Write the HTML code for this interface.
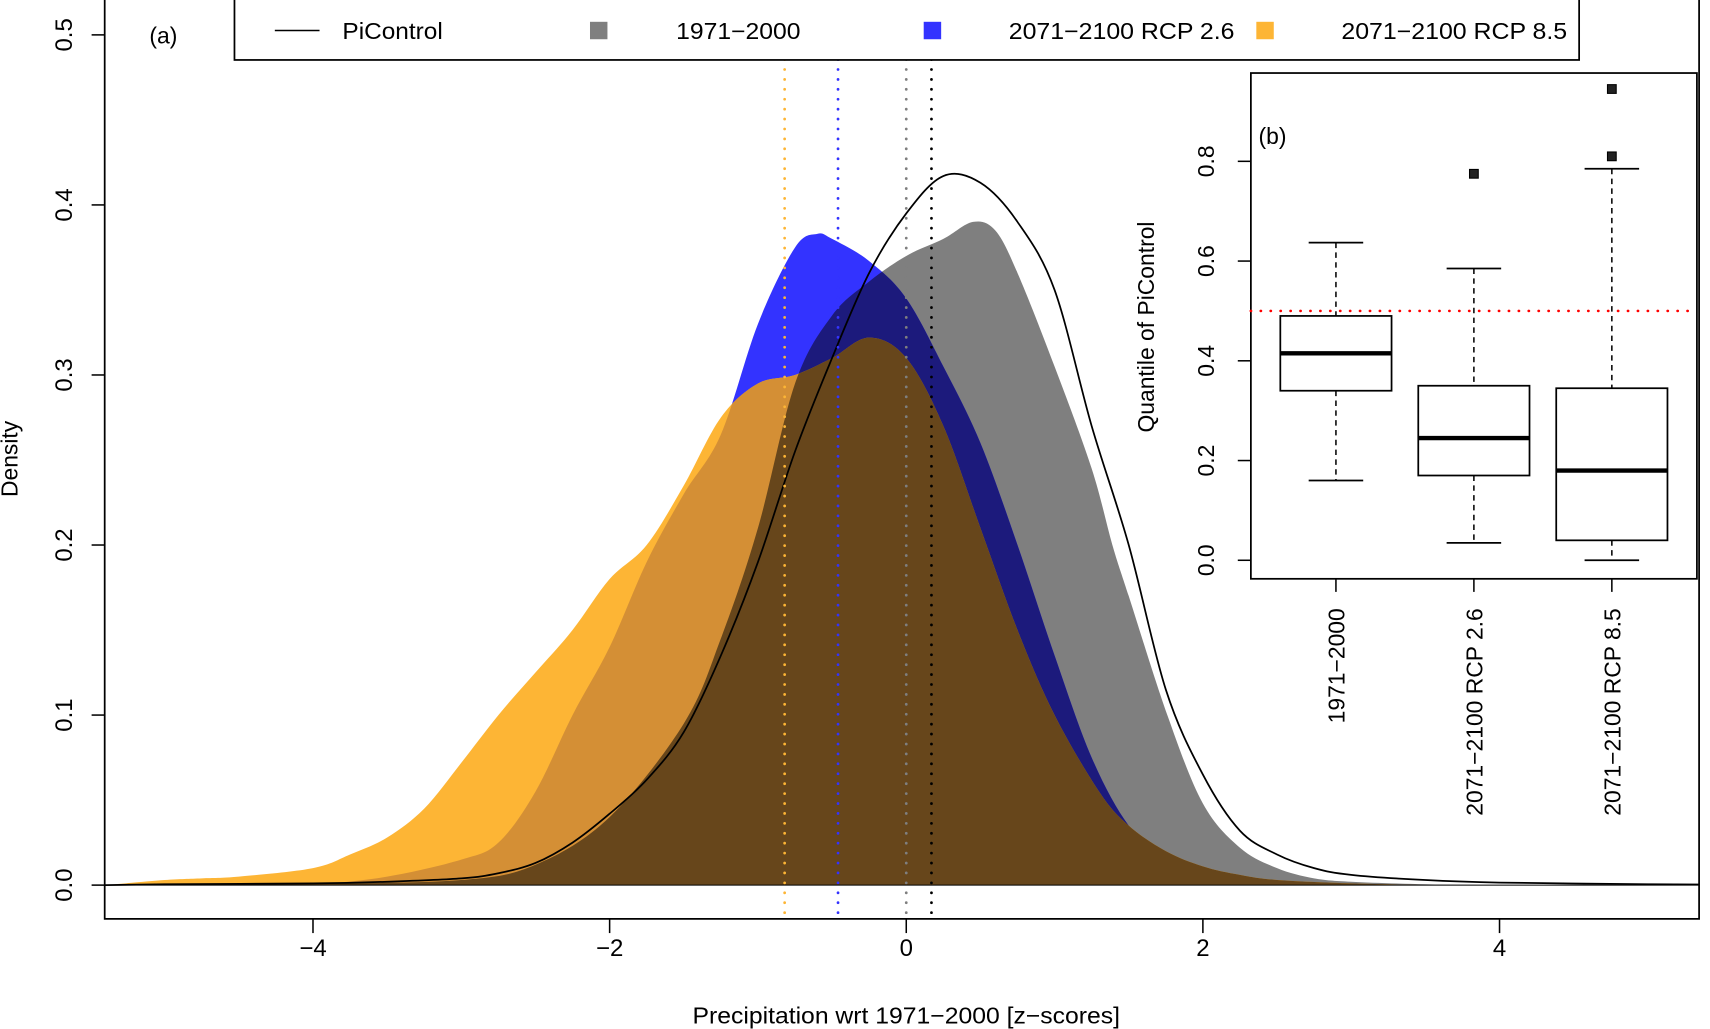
<!DOCTYPE html>
<html><head><meta charset="utf-8"><style>
html,body{margin:0;padding:0;background:#fff;}
svg{display:block;font-family:"Liberation Sans",sans-serif;}
</style></head><body>
<svg id="chart" width="1710" height="1029" viewBox="0 0 1568 944" preserveAspectRatio="none" xmlns="http://www.w3.org/2000/svg">
<defs>
<clipPath id="plotclip"><rect x="96" y="0" width="1462" height="843"/></clipPath>
</defs>
<rect x="0" y="0" width="1568" height="944" fill="#fff"/>
<g id="fills" clip-path="url(#plotclip)"></g>
<g id="main-axes"></g>
<g id="inset"></g>
</svg>
<script>
// ---------- data (main density plot) ----------
const piX  = [-5.4,-5,-4,-3.5,-3,-2.75,-2.5,-2.25,-2,-1.75,-1.5,-1.25,-1,-0.75,-0.5,-0.25,0,0.25,0.5,0.75,1,1.25,1.5,1.75,2,2.25,2.5,2.75,3,3.5,4,5,5.4];
const piY  = [0,0.0005,0.001,0.002,0.004,0.007,0.013,0.025,0.042,0.062,0.09,0.135,0.19,0.255,0.31,0.36,0.395,0.417,0.413,0.39,0.35,0.27,0.2,0.115,0.065,0.032,0.018,0.01,0.006,0.003,0.0015,0.0005,0.0003];
const grayX = [-5.4,-4,-3,-2.5,-2,-1.5,-1.25,-1,-0.75,-0.5,-0.25,0,0.25,0.45,0.6,0.75,1,1.25,1.39,1.5,1.76,2,2.25,2.5,2.75,3,3.5,4];
const grayY = [0,0.001,0.003,0.012,0.04,0.095,0.145,0.21,0.295,0.335,0.355,0.37,0.38,0.39,0.385,0.36,0.305,0.245,0.2,0.17,0.1,0.048,0.022,0.01,0.004,0.002,0.0005,0];
const blueX = [-4,-3.5,-3,-2.75,-2.5,-2.25,-2,-1.75,-1.5,-1.25,-1,-0.75,-0.6,-0.5,-0.25,0,0.25,0.5,0.75,1,1.25,1.5,1.75,2,2.5,3];
const blueY = [0,0.005,0.015,0.025,0.055,0.1,0.14,0.19,0.23,0.265,0.33,0.375,0.383,0.38,0.367,0.345,0.305,0.26,0.2,0.135,0.075,0.035,0.016,0.007,0.002,0];
const orangeX = [-5.4,-5,-4.75,-4.5,-4,-3.75,-3.5,-3.25,-3,-2.75,-2.5,-2.25,-2,-1.75,-1.5,-1.25,-1,-0.75,-0.5,-0.25,0,0.25,0.5,0.75,1,1.3,1.5,1.75,2,2.25,2.5,3,3.5];
const orangeY = [0,0.003,0.004,0.005,0.01,0.018,0.028,0.045,0.072,0.1,0.125,0.15,0.18,0.2,0.235,0.275,0.295,0.3,0.31,0.322,0.31,0.27,0.21,0.15,0.1,0.055,0.035,0.02,0.011,0.006,0.003,0.001,0];
const meanLines = [-0.82,-0.46,0,0.17];
const meanColors = ["#FDB535","#3333FF","#7F7F7F","#000000"];
const xTicks = [-4,-2,0,2,4];
const yTicks = [0,0.1,0.2,0.3,0.4,0.5];
// ---------- data (inset boxplot) ----------
const boxCats = ["1971\u22122000","2071\u22122100 RCP 2.6","2071\u22122100 RCP 8.5"];
const boxLow  = [0.16,0.035,0.0];
const boxQ1   = [0.34,0.17,0.04];
const boxMed  = [0.415,0.245,0.18];
const boxQ3   = [0.49,0.35,0.345];
const boxHigh = [0.637,0.585,0.785];
const boxOut  = [[],[0.775],[0.81,0.945]];
const insetTicks = [0,0.2,0.4,0.6,0.8];
const refLine = 0.5;

const NS="http://www.w3.org/2000/svg";
const X = v => 831 + 136*v;
const Y = d => 812 - 1560*d;
const IY = q => 514 - 457.5*q;
const IX = i => 1225 + 126.5*i;
function mk(tag, attrs, parent){const e=document.createElementNS(NS,tag);for(const k in attrs)e.setAttribute(k,attrs[k]);if(parent)parent.appendChild(e);return e;}
function curve(xs, ys){
  const p = xs.map((x,i)=>[X(x),Y(ys[i])]);
  let d = "M"+p[0][0]+","+p[0][1];
  for(let i=0;i<p.length-1;i++){
    const p0=p[i-1]||p[i], p1=p[i], p2=p[i+1], p3=p[i+2]||p[i+1];
    const c1=[p1[0]+(p2[0]-p0[0])/6, Math.min(812,p1[1]+(p2[1]-p0[1])/6)];
    const c2=[p2[0]-(p3[0]-p1[0])/6, Math.min(812,p2[1]-(p3[1]-p1[1])/6)];
    d+=" C"+c1[0].toFixed(1)+","+c1[1].toFixed(1)+" "+c2[0].toFixed(1)+","+c2[1].toFixed(1)+" "+p2[0].toFixed(1)+","+p2[1].toFixed(1);
  }
  return d;
}
function area(xs,ys){return curve(xs,ys)+" L"+X(xs[xs.length-1])+",812 L"+X(xs[0])+",812 Z";}
const svg=document.getElementById('chart');
const defs=svg.querySelector('defs');
const fills=document.getElementById('fills');
const gA=area(grayX,grayY), bA=area(blueX,blueY), oA=area(orangeX,orangeY);
[['cg',gA],['cb',bA]].forEach(([id,d])=>{const c=mk('clipPath',{id:id},defs);mk('path',{d:d},c);});

let e;
e=mk('path',{d:gA,fill:'#7F7F7F'},fills);


e=mk('path',{d:bA,fill:'#3333FF'},fills);


e=mk('path',{d:oA,fill:'#FDB535'},fills);


let g1=mk('g',{'clip-path':'url(#cg)'},fills);
e=mk('path',{d:bA,fill:'#1C1A7C'},g1);


let g2=mk('g',{'clip-path':'url(#cb)'},fills);
e=mk('path',{d:oA,fill:'#D48F35'},g2);


let g3=mk('g',{'clip-path':'url(#cg)'},fills);
e=mk('path',{d:oA,fill:'#67461B'},g3);


mk('line',{x1:96,x2:1558,y1:812,y2:812,stroke:'#000','stroke-width':1},fills);
e=mk('path',{d:curve(piX,piY),fill:'none',stroke:'#000','stroke-width':1.6},fills);


meanLines.forEach((m,i)=>{
  const l=mk('line',{x1:X(m),x2:X(m),y1:0,y2:843,stroke:meanColors[i],'stroke-width':2.5,'stroke-dasharray':'0.1 9','stroke-linecap':'round'},fills);
  
  
});
const ax=document.getElementById('main-axes');
mk('polyline',{points:'96,0 96,843 1558,843 1558,0',fill:'none',stroke:'#000','stroke-width':1.6},ax);
xTicks.forEach(t=>{
  mk('line',{x1:X(t),x2:X(t),y1:843,y2:856,stroke:'#000','stroke-width':1.4},ax);
  const tx=mk('text',{x:X(t),y:877,'text-anchor':'middle','font-size':22},ax);
  tx.textContent=(t<0?'\u2212':'')+Math.abs(t);
  
  
});
yTicks.forEach(t=>{
  mk('line',{x1:84,x2:96,y1:Y(t),y2:Y(t),stroke:'#000','stroke-width':1.4},ax);
  const tx=mk('text',{x:0,y:0,'text-anchor':'middle','font-size':22,transform:`translate(66,${Y(t)}) rotate(-90)`},ax);
  tx.textContent=t.toFixed(1);
  
  
});
e=mk('text',{x:0,y:0,'text-anchor':'middle','font-size':21,transform:'translate(16,421) rotate(-90)'},ax);
e.textContent='Density';


e=mk('text',{x:831,y:939,'text-anchor':'middle','font-size':21,textLength:392,lengthAdjust:'spacingAndGlyphs'},ax);
e.textContent='Precipitation wrt 1971\u22122000 [z\u2212scores]';


e=mk('text',{x:137,y:40,'font-size':21},ax);
e.textContent='(a)';


const lg=mk('g',{},ax);


mk('rect',{x:215,y:-2,width:1233,height:57,fill:'#fff',stroke:'#000','stroke-width':1.6},lg);
mk('line',{x1:252,x2:293,y1:28,y2:28,stroke:'#000','stroke-width':1.4},lg);
const legItems=[[null,314,'PiControl',92],['#7F7F7F',620,'1971\u22122000',114],['#3333FF',925,'2071\u22122100 RCP 2.6',207],['#FDB535',1230,'2071\u22122100 RCP 8.5',207]];
const sqX=[0,549,855,1160];
legItems.forEach((it,i)=>{
  if(it[0]) mk('rect',{x:sqX[i]-8,y:20,width:16,height:16,fill:it[0]},lg);
  const t=mk('text',{x:it[1],y:36,'font-size':21,textLength:it[3],lengthAdjust:'spacingAndGlyphs'},lg);
  t.textContent=it[2];
  
  
});
const ins=document.getElementById('inset');
mk('rect',{x:1147,y:67,width:409,height:464,fill:'#fff',stroke:'#000','stroke-width':1.6},ins);
mk('line',{x1:1147,x2:1556,y1:IY(refLine),y2:IY(refLine),stroke:'#FF0000','stroke-width':2.5,'stroke-dasharray':'0.1 9','stroke-linecap':'round'},ins);
insetTicks.forEach(t=>{
  mk('line',{x1:1135,x2:1147,y1:IY(t),y2:IY(t),stroke:'#000','stroke-width':1.4},ins);
  const tx=mk('text',{x:0,y:0,'text-anchor':'middle','font-size':21,transform:`translate(1113,${IY(t)}) rotate(-90)`},ins);
  tx.textContent=t.toFixed(1);
  
  
});
e=mk('text',{x:0,y:0,'text-anchor':'middle','font-size':21,transform:'translate(1058,300) rotate(-90)'},ins);
e.textContent='Quantile of PiControl';


e=mk('text',{x:1154,y:132,'font-size':21},ins);
e.textContent='(b)';


boxCats.forEach((c,i)=>{
  const cx=IX(i), hw=51, cw=25;
  const b=mk('g',{},ins);
  
  
  mk('line',{x1:cx,x2:cx,y1:IY(boxHigh[i]),y2:IY(boxQ3[i]),stroke:'#000','stroke-width':1.4,'stroke-dasharray':'5 4'},b);
  mk('line',{x1:cx,x2:cx,y1:IY(boxQ1[i]),y2:IY(boxLow[i]),stroke:'#000','stroke-width':1.4,'stroke-dasharray':'5 4'},b);
  mk('line',{x1:cx-cw,x2:cx+cw,y1:IY(boxHigh[i]),y2:IY(boxHigh[i]),stroke:'#000','stroke-width':1.6},b);
  mk('line',{x1:cx-cw,x2:cx+cw,y1:IY(boxLow[i]),y2:IY(boxLow[i]),stroke:'#000','stroke-width':1.6},b);
  mk('rect',{x:cx-hw,y:IY(boxQ3[i]),width:2*hw,height:IY(boxQ1[i])-IY(boxQ3[i]),fill:'#fff',stroke:'#000','stroke-width':1.6},b);
  mk('line',{x1:cx-hw,x2:cx+hw,y1:IY(boxMed[i]),y2:IY(boxMed[i]),stroke:'#000','stroke-width':4},b);
  boxOut[i].forEach(o=>{mk('rect',{x:cx-4,y:IY(o)-4,width:8,height:8,fill:'#222',stroke:'#000','stroke-width':1},b);});
  mk('line',{x1:cx,x2:cx,y1:531,y2:543,stroke:'#000','stroke-width':1.4},ins);
  const t=mk('text',{x:0,y:0,'text-anchor':'end','font-size':21,transform:`translate(${cx+8},558) rotate(-90)`},ins);
  t.textContent=c;
  
  
});
</script>
</body></html>
